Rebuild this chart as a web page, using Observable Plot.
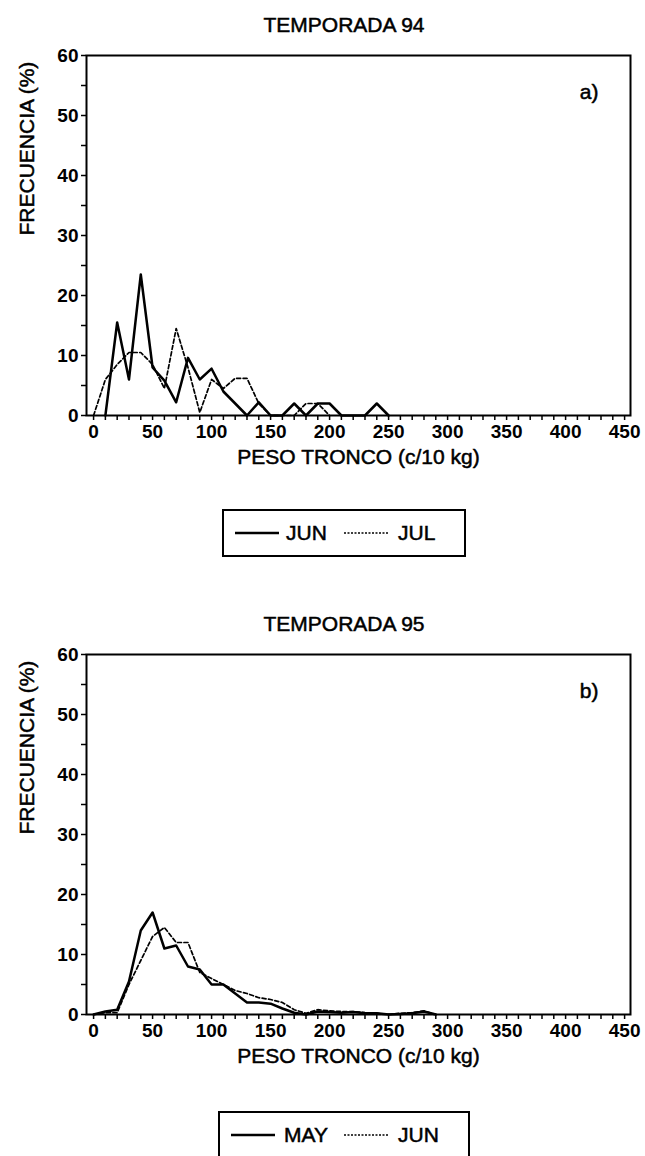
<!DOCTYPE html>
<html><head><meta charset="utf-8">
<script src="https://cdn.jsdelivr.net/npm/d3@7"></script>
<script src="https://cdn.jsdelivr.net/npm/@observablehq/plot@0.6"></script>
<style>
body{margin:0;background:#fff;}
#page{position:relative;width:645px;height:1156px;overflow:hidden;font-family:"Liberation Sans",Arial,sans-serif;color:#000;background:#fff}
.title{position:absolute;font-size:21px;transform:translate(-50%,-50%);white-space:nowrap;-webkit-text-stroke:0.5px #000;}
.plot{position:absolute;left:0;}
.legend{position:absolute;border:2px solid #000;box-sizing:border-box;background:#fff;}
.legend span{position:absolute;font-size:21px;top:50%;transform:translateY(-50%);white-space:nowrap;-webkit-text-stroke:0.5px #000;}
.legend svg{position:absolute;top:50%;transform:translateY(-50%);}
</style></head>
<body><div id="page"></div>
<script>
// ---- data ----
const titles = ["TEMPORADA 94", "TEMPORADA 95"];
const panelTags = ["a)", "b)"];
const xLabel = "PESO TRONCO (c/10 kg)";
const yLabel = "FRECUENCIA (%)";
const xTicks = d3.range(0, 451, 10);
const yTicks = d3.range(0, 61, 5);

// Temporada 94
const jun94X = [10,20,30,40,50,60,70,80,90,100,110,120,130,140,150,160,170,180,190,200,210,220,230,240,250];
const jun94Y = [0,15.5,6,23.5,8,5.8,2.2,9.6,6,7.8,4,2,0,2.2,0,0,2,0,2,2,0,0,0,2,0];
const jul94X = [0,10,20,30,40,50,60,70,80,90,100,110,120,130,140,150,160,170,180,190,200];
const jul94Y = [0,6,8.5,10.5,10.5,8.5,4.5,14.5,8,0.5,6,4.5,6.2,6.2,2,0,0,0,2,2,0];
const legend94 = ["JUN", "JUL"];

// Temporada 95
const may95X = [0,10,20,30,40,50,60,70,80,90,100,110,120,130,140,150,160,170,180,190,200,210,220,230,240,250,260,270,280,290];
const may95Y = [0,0.5,0.8,5.5,14,17,11,11.5,8,7.5,5,5,3.5,2,2,1.8,1,0.3,0,0.5,0.4,0.3,0.4,0.2,0.2,0,0.1,0.2,0.5,0];
const jun95X = [0,10,20,30,40,50,60,70,80,90,100,110,120,130,140,150,160,170,180,190,200,210,220,230,240,250,260,270,280,290];
const jun95Y = [0,0.3,0.3,5,9,13,14.5,12,12,7,6,5,4,3.5,2.8,2.5,2,0.8,0.2,0.8,0.6,0.5,0.5,0.3,0.2,0,0.2,0.3,0.6,0];
const legend95 = ["MAY", "JUN"];

const toRows = (xs, ys) => xs.map((x, i) => ({x, y: ys[i]}));

const page = document.getElementById("page");

function addPanel(i, top, solid, dashed, legendNames, legendBox) {
  const t = document.createElement("div");
  t.className = "title";
  t.textContent = titles[i];
  t.style.left = "344px";
  t.style.top = (top - 16) + "px";
  page.appendChild(t);

  const txt = {stroke: "black", strokeWidth: 0.5, fill: "black"};
  const chart = Plot.plot({
    width: 645, height: 436,
    marginTop: 14, marginLeft: 86, marginRight: 15, marginBottom: 62,
    x: {domain: [-6, 455]},
    y: {domain: [0, 60]},
    style: {fontFamily: "Liberation Sans, Arial, sans-serif", fontSize: "19px", color: "#000", background: "transparent", overflow: "visible"},
    marks: [
      Plot.axisX({ticks: xTicks, tickSize: 5, tickPadding: 4, strokeWidth: 1.5, tickFormat: d => d % 50 === 0 ? d : "", label: null, fontWeight: "bold", fontSize: 19}),
      Plot.axisY({ticks: yTicks, tickSize: 5, tickPadding: 3, strokeWidth: 1.5, tickFormat: d => d % 10 === 0 ? d : "", label: null, fontWeight: "bold", fontSize: 19}),
      Plot.frame({strokeWidth: 2, stroke: "black"}),
      Plot.line(dashed, {x: "x", y: "y", stroke: "black", strokeWidth: 1.7, strokeDasharray: "4,2.5"}),
      Plot.line(solid, {x: "x", y: "y", stroke: "black", strokeWidth: 2.5}),
      Plot.text([panelTags[i]], {text: d => d, frameAnchor: "top-right", dx: -32, dy: 29, fontSize: 21, ...txt}),
      Plot.text([xLabel], {text: d => d, frameAnchor: "bottom", dy: 48, fontSize: 21, ...txt}),
      Plot.text([yLabel], {text: d => d, frameAnchor: "left", dx: -59, rotate: -90, fontSize: 21, ...txt})
    ]
  });
  chart.classList.add("plot");
  chart.style.top = top + "px";
  page.appendChild(chart);

  const lg = document.createElement("div");
  lg.className = "legend";
  lg.style.left = legendBox.left + "px";
  lg.style.top = legendBox.top + "px";
  lg.style.width = legendBox.width + "px";
  lg.style.height = "48px";
  const items = legendBox.items;
  lg.innerHTML =
    `<svg width="44" height="6" style="left:${items[0]}px"><line x1="0" y1="3" x2="44" y2="3" stroke="black" stroke-width="2.5"/></svg>` +
    `<span style="left:${items[1]}px">${legendNames[0]}</span>` +
    `<svg width="44" height="6" style="left:${items[2]}px"><line x1="0" y1="3" x2="44" y2="3" stroke="black" stroke-width="1.5" stroke-dasharray="2,1.5"/></svg>` +
    `<span style="left:${items[3]}px">${legendNames[1]}</span>`;
  page.appendChild(lg);
}

addPanel(0, 41, toRows(jun94X, jun94Y), toRows(jul94X, jul94Y), legend94,
  {left: 222, top: 509, width: 244, items: [11, 62, 120, 174]});
addPanel(1, 640, toRows(may95X, may95Y), toRows(jun95X, jun95Y), legend95,
  {left: 218, top: 1111, width: 252, items: [11, 64, 124, 178]});
</script>
</body></html>
